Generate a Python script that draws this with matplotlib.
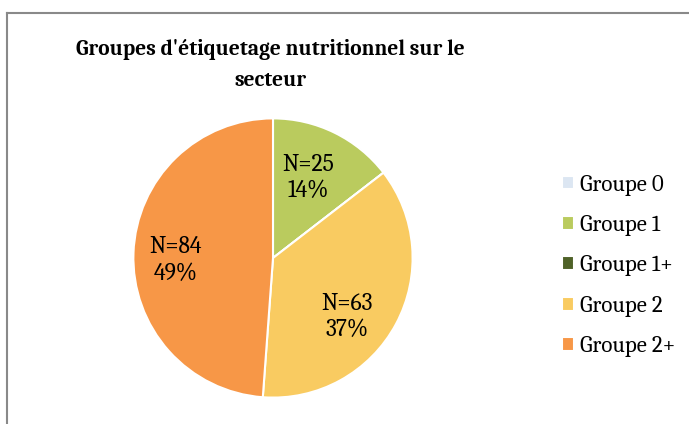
import matplotlib
matplotlib.use("Agg")
import matplotlib.pyplot as plt
from matplotlib.lines import Line2D

groupes = ['Groupe 0', 'Groupe 1', 'Groupe 1+', 'Groupe 2', 'Groupe 2+']
effectifs = [0, 25, 0, 63, 84]
pourcentages = [0, 14, 0, 37, 49]
couleurs = ['#DCE6F2', '#BACB5E', '#4F6228', '#F9CB61', '#F79747']

titre = "Groupes d'étiquetage nutritionnel sur le\nsecteur"

# small nudges of the labels (axes units), like Excel's best fit placement
decalages = [(0, 0), (-0.04, -0.015), (0, 0), (-0.05, -0.11), (-0.04, -0.04)]

fig = plt.figure(figsize=(6.89, 4.24), dpi=100)

# frame of the chart area
fig.add_artist(Line2D([7 / 689, 7 / 689], [0, 1 - 13 / 424], color='#898989', lw=1.5,
                      transform=fig.transFigure))
fig.add_artist(Line2D([7 / 689, 1], [1 - 13 / 424, 1 - 13 / 424], color='#898989', lw=1.5,
                      transform=fig.transFigure))

ax = fig.add_axes([132 / 689, 1 - 399 / 424, 282 / 689, 282 / 424])
etiquettes = ['N=%d\n%d%%' % (n, p) if n else '' for n, p in zip(effectifs, pourcentages)]
wedges, textes = ax.pie(effectifs, colors=couleurs, startangle=90, counterclock=False,
                        labels=etiquettes, labeldistance=0.66,
                        wedgeprops=dict(edgecolor='white', linewidth=1.5),
                        textprops=dict(family='Caladea', fontsize=17, color='black',
                                       linespacing=1.2))
for t, (dx, dy) in zip(textes, decalages):
    t.set_ha('center')
    t.set_va('center')
    x, y = t.get_position()
    t.set_position((x + dx, y + dy))
ax.set_xlim(-1.01, 1.01)
ax.set_ylim(-1.01, 1.01)
ax.set_aspect('equal')
ax.axis('off')

fig.text(270 / 689, 1 - 65 / 424, titre, ha='center', va='center',
         family='Caladea', weight='bold', fontsize=15.5, linespacing=1.7)

fig.legend(wedges, groupes, loc='center left', bbox_to_anchor=(541 / 689, 1 - 266 / 424),
           frameon=False, prop=dict(family='Caladea', size=16.5),
           handlelength=0.55, handleheight=0.55, handletextpad=0.25, labelspacing=0.85)

fig.savefig('out.png', dpi=100)
